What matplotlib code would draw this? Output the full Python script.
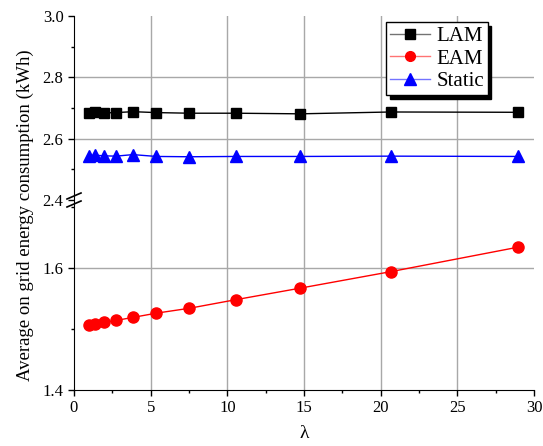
import matplotlib.colors as mcolors
import matplotlib.pyplot as plt
from matplotlib.ticker import MultipleLocator

plt.rcParams["font.family"] = ["Liberation Serif", "DejaVu Serif"]
plt.rcParams["font.size"] = 12

lam = [1.0, 1.4, 1.96, 2.74, 3.84, 5.38, 7.53, 10.54, 14.76, 20.66, 28.93]
lam_energy = [2.685, 2.687, 2.684, 2.685, 2.688, 2.685, 2.683, 2.683, 2.681, 2.687, 2.686]
eam_energy = [1.507, 1.508, 1.511, 1.514, 1.519, 1.526, 1.534, 1.548, 1.567, 1.594, 1.634]
static_energy = [2.544, 2.546, 2.544, 2.543, 2.548, 2.542, 2.541, 2.542, 2.542, 2.543, 2.542]

fig = plt.figure(figsize=(5.43, 4.46), dpi=100)
left, right = 74 / 543, 534 / 543
top, brk, bottom = 1 - 16 / 446, 1 - 200 / 446, 1 - 390 / 446
ax_hi = fig.add_axes([left, brk, right - left, top - brk])
ax_lo = fig.add_axes([left, bottom, right - left, brk - bottom])

grid_kw = dict(color="#a8a8a8", linewidth=1.0, zorder=0)
for ax in (ax_hi, ax_lo):
    ax.set_xlim(0, 30)
    ax.spines["top"].set_visible(False)
    ax.spines["right"].set_visible(False)
    ax.xaxis.set_major_locator(MultipleLocator(5))
    ax.xaxis.set_minor_locator(MultipleLocator(2.5))
    ax.tick_params(which="major", direction="out", length=4, width=1, color="black")
    ax.tick_params(which="minor", direction="out", length=2.5, width=1)
    for gx in (5, 10, 15, 20, 25):
        ax.axvline(gx, **grid_kw)

# upper part (LAM / Static)
ax_hi.plot(lam, lam_energy, color="black", lw=1, marker="s", ms=7, label="LAM")
ax_hi.plot([], [], color="red", lw=1, marker="o", ms=7, label="EAM")
ax_hi.plot(lam, static_energy, color="blue", lw=1, marker="^", ms=8, label="Static")
ax_hi.set_ylim(2.4, 3.0)
ax_hi.yaxis.set_minor_locator(MultipleLocator(0.1))
ax_hi.spines["bottom"].set_visible(False)
ax_hi.tick_params(axis="x", which="both", bottom=False, labelbottom=False)
ax_hi.set_yticks([2.4, 2.6, 2.8, 3.0])
ax_hi.set_yticklabels(["2.4", "2.6", "2.8", "3.0"])
for gy in (2.6, 2.8):
    ax_hi.axhline(gy, **grid_kw)

# lower part (EAM)
ax_lo.plot(lam, eam_energy, color="red", lw=1, marker="o", ms=8)
ax_lo.set_ylim(1.4, 1.4 + 190 / 610)
ax_lo.set_yticks([1.4, 1.6])
ax_lo.set_yticklabels(["1.4", "1.6"])
ax_lo.yaxis.set_minor_locator(MultipleLocator(0.1))
ax_lo.axhline(1.6, **grid_kw)
ax_lo.set_xlabel("λ", fontsize=14, labelpad=6)

# axis break marks
for dy in (-4, 4):
    y = 200 + dy
    fig.add_artist(plt.Line2D([(74 - 7) / 543, (74 + 7) / 543],
                              [1 - (y + 3) / 446, 1 - (y - 3) / 446],
                              color="black", lw=1.2, transform=fig.transFigure))

fig.text(25 / 543, 1 - 215 / 446, "Average on grid energy consumption (kWh)",
         rotation=90, va="center", ha="center", fontsize=13.5)

leg = ax_hi.legend(loc="upper right", bbox_to_anchor=(0.900, 0.967), borderaxespad=0,
                   fontsize=15, shadow={"color": "black", "alpha": 1, "ox": 2.5, "oy": -2.5},
                   fancybox=False, framealpha=1,
                   edgecolor="black", handlelength=1.9, borderpad=0.2, labelspacing=0.15,
                   handletextpad=0.3)
leg.get_frame().set_linewidth(1)
# lighter legend lines, solid markers
for line in leg.get_lines():
    c = line.get_color()
    line.set_markerfacecolor(c)
    line.set_markeredgecolor(c)
    line.set_color(mcolors.to_rgba(c, 0.55))

fig.savefig("out.png", dpi=100)
